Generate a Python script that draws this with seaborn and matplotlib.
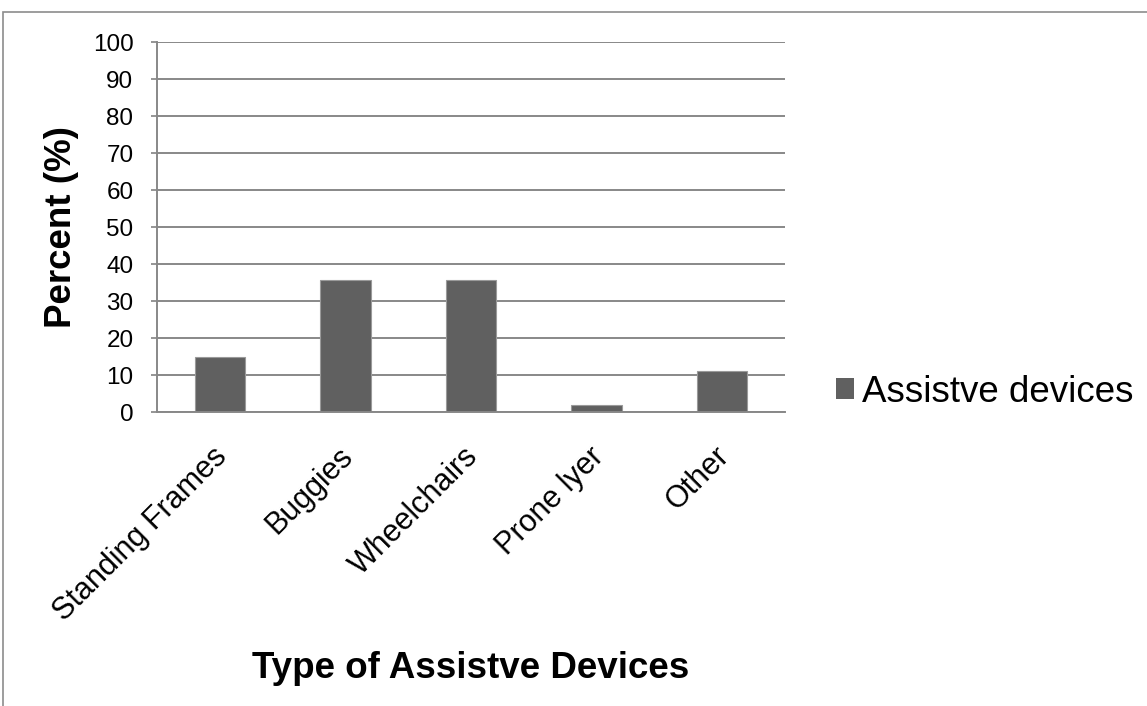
import matplotlib
matplotlib.use("Agg")
import matplotlib.pyplot as plt
from matplotlib.patches import Rectangle, Patch
from matplotlib.transforms import ScaledTranslation
import seaborn as sns
import pandas as pd

categories = ["Standing Frames", "Buggies", "Wheelchairs", "Prone lyer", "Other"]
percent = [15.0, 35.8, 35.8, 1.9, 11.2]
series_name = "Assistve devices"
y_ticks = [0, 10, 20, 30, 40, 50, 60, 70, 80, 90, 100]

df = pd.DataFrame({"device": categories, "percent": percent})

sns.set_theme(style="white")
plt.rcParams["font.family"] = ["Liberation Sans", "DejaVu Sans"]
plt.rcParams["text.color"] = "black"
plt.rcParams["axes.labelcolor"] = "black"
plt.rcParams["xtick.color"] = "black"
plt.rcParams["ytick.color"] = "black"

fig = plt.figure(figsize=(11.47, 7.06), dpi=100)
ax = fig.add_axes([0.1369, 0.4164, 0.5475, 0.5241])

# outer chart-area border (top and left edges visible)
fig.patches.append(Rectangle((3 / 1147, -0.05), 1.2, 0.05 + 1 - 12 / 706,
                             transform=fig.transFigure, fill=False,
                             edgecolor="#8c8c8c", linewidth=1.2))

bar_color = "#606060"
sns.barplot(data=df, x="device", y="percent", ax=ax, color=bar_color,
            width=0.4, edgecolor="#9a9a9a", linewidth=0.8, saturation=1)

ax.set_ylim(0, 100)
ax.set_yticks(y_ticks)
ax.set_xlim(-0.5, len(categories) - 0.5)
ax.yaxis.grid(True, color="#888888", linewidth=1.4)
ax.set_axisbelow(True)

for side in ["top", "right"]:
    ax.spines[side].set_visible(False)
for side in ["left", "bottom"]:
    ax.spines[side].set_color("#888888")
    ax.spines[side].set_linewidth(1.4)

ax.tick_params(axis="y", labelsize=17.5, length=4, color="#888888", pad=13,
               left=True, labelcolor="black")
ax.tick_params(axis="x", length=0, pad=21, labelcolor="black")
ax.set_xticks(range(len(categories)))
ax.set_xticklabels(categories, rotation=45, ha="right", rotation_mode="anchor",
                   fontsize=22)
shift = ScaledTranslation(-8 / 100, 0, fig.dpi_scale_trans)
for lbl in ax.get_xticklabels():
    lbl.set_transform(lbl.get_transform() + shift)

ax.set_xlabel("Type of Assistve Devices", fontsize=26.5, fontweight="bold",
              labelpad=0, color="black")
ax.xaxis.set_label_coords(0.5, -0.646)
ax.set_ylabel("Percent (%)", fontsize=26.5, fontweight="bold", labelpad=10,
              color="black")

handle = Patch(facecolor=bar_color, edgecolor="none")
fig.legend([handle], [series_name], loc="center left",
           bbox_to_anchor=(0.70, 1 - 392 / 706), frameon=False,
           fontsize=26.5, handlelength=0.5, handleheight=0.5,
           handletextpad=0.2, labelcolor="black")

fig.savefig("out.png", dpi=100)
